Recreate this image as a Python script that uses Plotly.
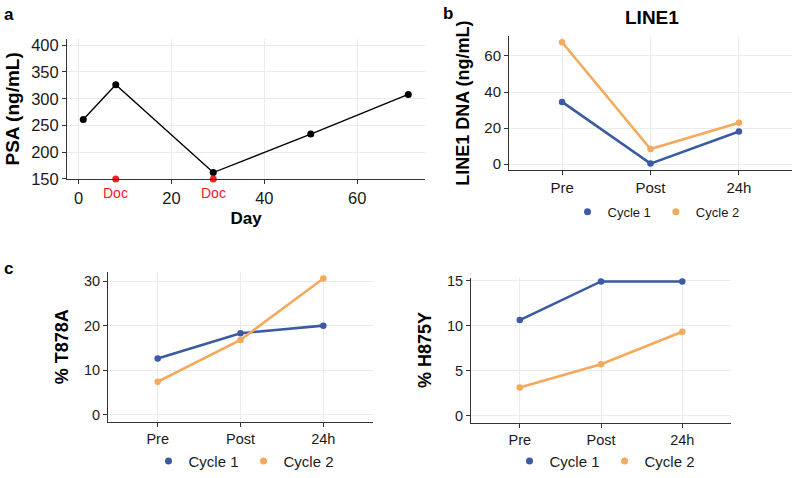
import plotly.graph_objects as go

# ---------------- data ----------------
psa_day = [1, 8, 29, 50, 71]
psa_val = [261, 326, 162, 234, 308]
doc_day = [8, 29]
doc_val = [150, 150]
doc_label = ["Doc", "Doc"]

timepoints = ["Pre", "Post", "24h"]
series_names = ["Cycle 1", "Cycle 2"]

line1_c1 = [34.5, 0.3, 18.1]
line1_c2 = [67.6, 8.4, 22.9]

t878a_c1 = [12.6, 18.3, 20.0]
t878a_c2 = [7.4, 16.8, 30.6]

h875y_c1 = [10.6, 14.9, 14.9]
h875y_c2 = [3.1, 5.7, 9.3]

BLUE = "#3a5ba3"
ORANGE = "#f5a95b"
RED = "#e8232a"
FONT = "Liberation Sans, Arial, sans-serif"
TXT = "#1a1a1a"
GRID = "#ebebeb"

W, H = 797, 478

def px_x(a, b):
    return [a / W, b / W]

def px_y(top, bottom):
    return [1 - bottom / H, 1 - top / H]

fig = go.Figure()

# ---- panel a ----
fig.add_trace(go.Scatter(x=psa_day, y=psa_val, mode="lines+markers",
                         line=dict(color="black", width=1.4),
                         marker=dict(color="black", size=7),
                         xaxis="x", yaxis="y", showlegend=False, cliponaxis=False))
fig.add_trace(go.Scatter(x=doc_day, y=doc_val, mode="markers",
                         marker=dict(color=RED, size=7),
                         xaxis="x", yaxis="y", showlegend=False, cliponaxis=False))

# ---- panels b, c, d ----
panels = [
    ("x2", "y2", "legend", line1_c1, line1_c2),
    ("x3", "y3", "legend2", t878a_c1, t878a_c2),
    ("x4", "y4", "legend3", h875y_c1, h875y_c2),
]
for xa, ya, lg, s1, s2 in panels:
    for name, vals, col in [(series_names[0], s1, BLUE), (series_names[1], s2, ORANGE)]:
        fig.add_trace(go.Scatter(x=timepoints, y=vals, mode="lines+markers", name=name,
                                 line=dict(color=col, width=2.6),
                                 marker=dict(color=col, size=6.5),
                                 xaxis=xa, yaxis=ya, showlegend=False, cliponaxis=False))
    for name, col in [(series_names[0], BLUE), (series_names[1], ORANGE)]:
        fig.add_trace(go.Scatter(x=[None], y=[None], mode="markers", name=name,
                                 marker=dict(color=col, size=7),
                                 xaxis=xa, yaxis=ya, legend=lg, showlegend=True))

def axis_common(tfs):
    return dict(showline=True, linecolor="#333333", linewidth=1,
                ticks="outside", ticklen=4, tickcolor="#333333", tickwidth=1,
                showgrid=True, gridcolor=GRID, gridwidth=1, zeroline=False,
                tickfont=dict(family=FONT, size=tfs, color=TXT))

def tfont(size):
    return dict(family=FONT, size=size, color="black", weight="bold")

layout = dict(
    width=W, height=H, margin=dict(l=0, r=0, t=0, b=0),
    paper_bgcolor="white", plot_bgcolor="white",
    font=dict(family=FONT, color=TXT),
    # panel a
    xaxis=dict(domain=px_x(67, 425), anchor="y", range=[-2.5, 74.6],
               tickvals=[0, 20, 40, 60],
               title=dict(text="Day", font=tfont(17), standoff=6),
               **axis_common(16.5)),
    yaxis=dict(domain=px_y(35, 180), anchor="x", range=[150, 412],
               tickvals=[150, 200, 250, 300, 350, 400],
               title=dict(text="PSA (ng/mL)", font=tfont(19), standoff=6),
               **axis_common(16.5)),
    # panel b
    xaxis2=dict(domain=px_x(509, 792), anchor="y2", type="category",
                range=[-0.6, 2.6], **axis_common(15)),
    yaxis2=dict(domain=px_y(32, 171), anchor="x2", range=[-3.4, 71.1],
                tickvals=[0, 20, 40, 60],
                title=dict(text="LINE1 DNA (ng/mL)", font=tfont(18), standoff=10),
                **axis_common(15)),
    # panel c
    xaxis3=dict(domain=px_x(108, 373), anchor="y3", type="category",
                range=[-0.6, 2.6], **axis_common(14.5)),
    yaxis3=dict(domain=px_y(276, 431), anchor="x3", range=[-1.55, 32.1],
                tickvals=[0, 10, 20, 30],
                title=dict(text="% T878A", font=tfont(18), standoff=10),
                **axis_common(14.5)),
    # panel d
    xaxis4=dict(domain=px_x(471, 731), anchor="y4", type="category",
                range=[-0.6, 2.6], **axis_common(14.5)),
    yaxis4=dict(domain=px_y(282, 432), anchor="x4", range=[-0.79, 15.33],
                tickvals=[0, 5, 10, 15],
                title=dict(text="% H875Y", font=tfont(18), standoff=10),
                **axis_common(14.5)),
    legend=dict(orientation="h", x=656 / W, y=1 - 214 / H, xanchor="center", yanchor="middle",
                font=dict(family=FONT, size=13, color=TXT), itemwidth=30,
                bgcolor="rgba(0,0,0,0)", tracegroupgap=0),
    legend2=dict(orientation="h", x=244 / W, y=1 - 472 / H, xanchor="center", yanchor="middle",
                 font=dict(family=FONT, size=15, color=TXT), itemwidth=30,
                 bgcolor="rgba(0,0,0,0)"),
    legend3=dict(orientation="h", x=605 / W, y=1 - 472 / H, xanchor="center", yanchor="middle",
                 font=dict(family=FONT, size=15, color=TXT), itemwidth=30,
                 bgcolor="rgba(0,0,0,0)"),
)
fig.update_layout(**layout)

def label(x, y, text, size):
    return dict(x=x / W, y=1 - y / H, xref="paper", yref="paper", text=text,
                showarrow=False, xanchor="center", yanchor="middle",
                font=dict(family=FONT, size=size, color="black"))

annotations = []
for d, v, lab in zip(doc_day, doc_val, doc_label):
    annotations.append(dict(x=d, y=v, xref="x", yref="y", text=lab, showarrow=False,
                            yshift=-14, font=dict(family=FONT, size=14, color=RED)))
annotations += [
    label(8.5, 10, "<b>a</b>", 17),
    label(447.5, 9, "<b>b</b>", 17),
    label(8.5, 273, "<b>c</b>", 17),
    label(652, 12.5, "<b>LINE1</b>", 19),
]
fig.update_layout(annotations=annotations)

fig.write_html("out.html", config={"displayModeBar": False},
               post_script="document.body.style.margin='0';document.body.style.overflow='hidden';")
